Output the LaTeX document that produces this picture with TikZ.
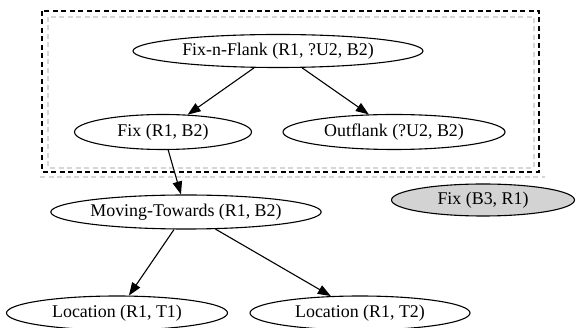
\documentclass[tikz,border=0pt]{standalone}
\usepackage{fontspec}
\setmainfont{Liberation Serif}
\usetikzlibrary{shapes.geometric,arrows.meta}
\definecolor{clgray}{HTML}{D3D3D3}
\definecolor{dashgray}{HTML}{D6D6D6}
\begin{document}
\begin{tikzpicture}[x=1pt,y=-1pt,
  gnode/.style={ellipse,draw=black,line width=1.1pt,inner sep=0pt,
    font=\fontsize{17.9}{20}\selectfont},
  gedge/.style={line width=1.1pt,-{Triangle[length=13pt,width=9.5pt]}},
  clusterbox/.style={draw=black,line width=1.1pt,dash pattern=on 5pt off 3.5pt},
  shadowbox/.style={draw=dashgray,line width=1.1pt,dash pattern=on 5pt off 3.5pt}]
\useasboundingbox (0,0) rectangle (576,328);
\draw[shadowbox] (48,17) rectangle (534,168);
\draw[shadowbox] (40,177) -- (545,177);
\draw[clusterbox] (42,11) rectangle (539,172);
\node[gnode,minimum width=290pt,minimum height=33pt] (ff) at (278,51) {Fix-n-Flank (R1, ?U2, B2)};
\node[gnode,minimum width=177pt,minimum height=35pt] (fix) at (163,132) {Fix (R1, B2)};
\node[gnode,minimum width=222pt,minimum height=35pt] (out) at (394,132) {Outflank (?U2, B2)};
\node[gnode,minimum width=267pt,minimum height=34pt] (mt) at (186,212) {Moving-Towards (R1, B2)};
\node[gnode,fill=clgray,minimum width=183pt,minimum height=32pt] (fb) at (483,200) {Fix (B3, R1)};
\node[gnode,minimum width=221pt,minimum height=34pt] (l1) at (117,313) {Location (R1, T1)};
\node[gnode,minimum width=220pt,minimum height=34pt] (l2) at (360,313) {Location (R1, T2)};
\draw[gedge] (ff) -- (fix);
\draw[gedge] (ff) -- (out);
\draw[gedge] (fix) -- (mt);
\draw[gedge] (mt) -- (l1);
\draw[gedge] (mt) -- (l2);
\end{tikzpicture}
\end{document}
